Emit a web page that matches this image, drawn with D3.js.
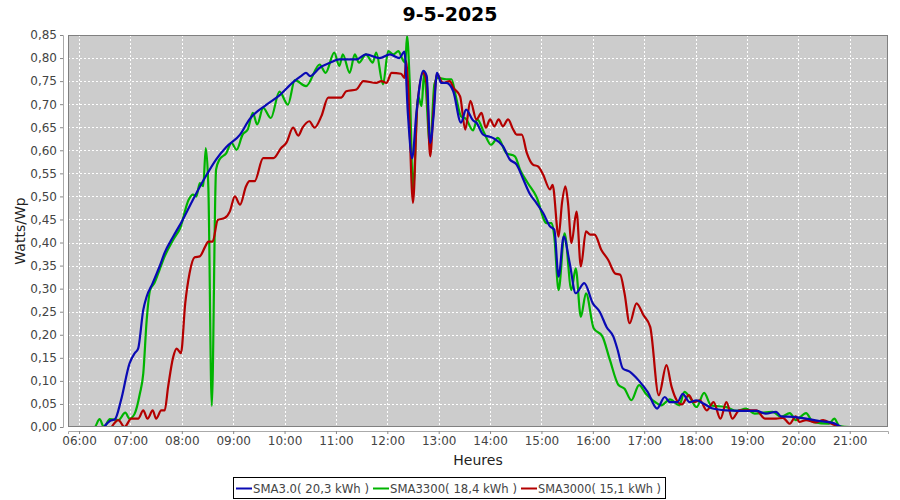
<!DOCTYPE html>
<html><head><meta charset="utf-8">
<script src="https://cdn.jsdelivr.net/npm/d3@7"></script>
<style>body{margin:0;background:#fff}svg{display:block;font-family:"DejaVu Sans",sans-serif}</style>
</head><body><svg id="c" width="900" height="500"></svg>
<script>
const title = "9-5-2025";
const yLabel = "Watts/Wp";
const xLabel = "Heures";
const yTicks = [0,0.05,0.10,0.15,0.20,0.25,0.30,0.35,0.40,0.45,0.50,0.55,0.60,0.65,0.70,0.75,0.80,0.85];
const xTickHours = [6,7,8,9,10,11,12,13,14,15,16,17,18,19,20,21];
const seriesNames = ["SMA3.0( 20,3 kWh )","SMA3300( 18,4 kWh )","SMA3000( 15,1 kWh )"];
const seriesColors = ["#0a0ab4","#00b400","#b40000"];

const blueTimes = ["06:29","06:36","06:42","06:49","06:59","07:05","07:09","07:15","07:19","07:26","07:34","07:40","07:50","08:01","08:13","08:29","08:40","08:52","09:08","09:19","09:39","09:54","10:10","10:20","10:25","10:30","10:41","10:53","11:04","11:24","11:35","11:51","12:03","12:14","12:20","12:24","12:29","12:34","12:42","12:46","12:50","12:54","12:58","13:03","13:09","13:17","13:26","13:32","13:40","13:44","13:52","14:03","14:15","14:23","14:31","14:39","14:46","14:54","15:02","15:10","15:15","15:20","15:26","15:33","15:40","15:50","16:00","16:08","16:16","16:24","16:29","16:35","16:43","16:54","17:04","17:15","17:24","17:30","17:39","17:45","17:53","18:01","18:09","18:20","18:36","18:51","19:11","19:22","19:34","19:40","19:54","20:09","20:25","20:40","20:50"];
const blueValues = [0.000,0.013,0.017,0.058,0.138,0.160,0.170,0.254,0.283,0.312,0.348,0.378,0.413,0.449,0.493,0.547,0.580,0.607,0.634,0.667,0.699,0.719,0.748,0.762,0.768,0.761,0.779,0.790,0.797,0.797,0.808,0.800,0.808,0.800,0.814,0.680,0.583,0.681,0.772,0.761,0.616,0.674,0.768,0.746,0.746,0.728,0.660,0.688,0.665,0.660,0.634,0.627,0.609,0.580,0.569,0.536,0.507,0.486,0.464,0.435,0.428,0.326,0.413,0.355,0.290,0.312,0.268,0.250,0.217,0.196,0.167,0.127,0.120,0.100,0.076,0.040,0.065,0.054,0.054,0.072,0.054,0.058,0.051,0.040,0.036,0.035,0.035,0.029,0.033,0.023,0.022,0.018,0.013,0.009,0.000];

const greenTimes = ["06:04","06:18","06:24","06:29","06:36","06:46","06:54","06:59","07:05","07:11","07:15","07:19","07:23","07:28","07:34","07:40","07:50","07:58","08:08","08:13","08:17","08:21","08:25","08:28","08:31","08:35","08:40","08:44","08:52","08:58","09:04","09:11","09:17","09:23","09:28","09:35","09:44","09:54","10:04","10:12","10:25","10:41","10:48","10:58","11:04","11:08","11:16","11:22","11:27","11:35","11:43","11:47","11:55","12:01","12:07","12:13","12:17","12:21","12:23","12:26","12:30","12:36","12:40","12:43","12:50","12:55","12:59","13:09","13:15","13:20","13:26","13:32","13:40","13:45","13:53","14:01","14:09","14:19","14:29","14:35","14:44","14:54","15:06","15:12","15:15","15:20","15:27","15:35","15:40","15:46","15:52","16:01","16:11","16:20","16:30","16:37","16:45","16:54","17:02","17:10","17:20","17:30","17:41","17:47","17:53","18:01","18:10","18:18","18:36","18:48","18:59","19:09","19:30","19:40","19:50","19:57","20:09","20:17","20:36","20:42","20:48","21:00","21:32"];
const greenValues = [0,0,0.017,0,0.017,0.015,0.031,0.018,0.029,0.072,0.116,0.232,0.297,0.312,0.341,0.370,0.406,0.431,0.493,0.504,0.500,0.529,0.522,0.605,0.520,0.046,0.558,0.580,0.594,0.616,0.601,0.634,0.645,0.681,0.656,0.692,0.670,0.727,0.699,0.752,0.739,0.786,0.768,0.812,0.783,0.808,0.768,0.808,0.790,0.808,0.790,0.812,0.743,0.815,0.808,0.815,0.800,0.790,0.848,0.754,0.515,0.717,0.696,0.768,0.609,0.743,0.757,0.754,0.754,0.717,0.674,0.668,0.643,0.667,0.638,0.612,0.627,0.594,0.587,0.558,0.529,0.500,0.442,0.442,0.413,0.297,0.420,0.297,0.344,0.239,0.290,0.214,0.197,0.145,0.091,0.083,0.058,0.091,0.072,0.058,0.047,0.060,0.047,0.076,0.065,0.043,0.074,0.047,0.043,0.035,0.040,0.029,0.033,0.022,0.030,0.015,0.030,0.011,0.007,0.018,0.002,0,0];

const redTimes = ["06:38","06:46","06:53","07:01","07:09","07:15","07:20","07:26","07:30","07:36","07:40","07:44","07:50","07:54","07:59","08:04","08:09","08:15","08:21","08:27","08:31","08:36","08:42","08:50","08:56","09:02","09:08","09:15","09:19","09:25","09:35","09:47","09:56","10:02","10:10","10:16","10:21","10:29","10:35","10:43","10:51","11:06","11:12","11:24","11:32","11:47","11:53","11:59","12:05","12:16","12:20","12:22","12:24","12:30","12:35","12:42","12:46","12:50","12:54","12:58","13:05","13:13","13:17","13:25","13:31","13:37","13:44","13:50","13:55","14:00","14:05","14:10","14:15","14:21","14:27","14:31","14:37","14:43","14:50","14:56","15:02","15:10","15:13","15:20","15:24","15:28","15:31","15:35","15:41","15:46","15:52","15:57","16:02","16:10","16:18","16:26","16:32","16:37","16:43","16:51","16:59","17:07","17:17","17:26","17:32","17:38","17:44","17:52","17:58","18:05","18:13","18:21","18:29","18:36","18:43","18:51","19:11","19:21","19:34","19:42","19:50","19:57","20:01","20:09","20:20","20:29","20:40","20:48"];
const redValues = [0,0.015,0,0.018,0.018,0.036,0.018,0.036,0.018,0.036,0.036,0.087,0.152,0.170,0.160,0.268,0.333,0.368,0.370,0.390,0.402,0.402,0.449,0.453,0.467,0.500,0.482,0.522,0.533,0.533,0.583,0.583,0.605,0.616,0.649,0.632,0.649,0.663,0.649,0.674,0.714,0.714,0.728,0.732,0.750,0.746,0.750,0.746,0.768,0.766,0.757,0.794,0.750,0.486,0.696,0.768,0.745,0.587,0.688,0.765,0.746,0.750,0.736,0.717,0.645,0.707,0.667,0.681,0.649,0.667,0.652,0.667,0.652,0.667,0.645,0.634,0.634,0.594,0.569,0.565,0.547,0.515,0.525,0.413,0.486,0.522,0.486,0.399,0.467,0.348,0.424,0.417,0.417,0.384,0.362,0.333,0.330,0.290,0.225,0.268,0.243,0.217,0.069,0.134,0.087,0.058,0.049,0.069,0.054,0.058,0.036,0.054,0.018,0.054,0.018,0.036,0.036,0.018,0.018,0.020,0.007,0.023,0.011,0.015,0.010,0.015,0.006,0];

const toH = s => { const [h,m] = s.split(":").map(Number); return h + m/60; };
const series = [
  {name: seriesNames[0], color: seriesColors[0], pts: blueTimes.map((t,i)=>[toH(t), blueValues[i]])},
  {name: seriesNames[1], color: seriesColors[1], pts: greenTimes.map((t,i)=>[toH(t), greenValues[i]])},
  {name: seriesNames[2], color: seriesColors[2], pts: redTimes.map((t,i)=>[toH(t), redValues[i]])}
];

const svg = d3.select("#c");
const L = 68, R = 888, T = 35, B = 427;
const x = d3.scaleLinear().domain([5.785, 21.745]).range([L, R]);
const y = d3.scaleLinear().domain([0, 0.85]).range([B, T]);
const fmtY = d => d3.format(".2f")(d).replace(".", ",");
const fmtX = h => String(h).padStart(2,"0") + ":00";

svg.append("text").attr("x", 450).attr("y", 21).attr("text-anchor","middle")
  .attr("font-size", 19).attr("font-weight","bold").attr("fill","#000").text(title);

svg.append("rect").attr("x", L).attr("y", T).attr("width", R-L).attr("height", B-T).attr("fill", "#cccccc");

const g = svg.append("g");
g.selectAll(".hg").data(yTicks).join("line")
  .attr("x1", L).attr("x2", R).attr("y1", d=>Math.round(y(d))+0.5).attr("y2", d=>Math.round(y(d))+0.5)
  .attr("stroke","#fff").attr("stroke-width",1).attr("stroke-dasharray","2,2");
g.selectAll(".vg").data(xTickHours).join("line")
  .attr("y1", T).attr("y2", B).attr("x1", d=>Math.round(x(d))+0.5).attr("x2", d=>Math.round(x(d))+0.5)
  .attr("stroke","#fff").attr("stroke-width",1).attr("stroke-dasharray","2,2");

svg.append("clipPath").attr("id","pc").append("rect").attr("x",L).attr("y",T-3).attr("width",R-L).attr("height",B-T+3);
const line = d3.line().x(d=>x(d[0])).y(d=>y(d[1])).curve(d3.curveMonotoneX);
const order = [1,2,0];
const lg = svg.append("g").attr("clip-path","url(#pc)");
order.forEach(i => {
  lg.append("path").attr("d", line(series[i].pts)).attr("fill","none")
    .attr("stroke", series[i].color).attr("stroke-width", 2.2).attr("stroke-linejoin","round");
});

svg.append("rect").attr("x", L+0.5).attr("y", T+0.5).attr("width", R-L-1).attr("height", B-T-1)
  .attr("fill","none").attr("stroke","#808080");

// Y axis
const ya = svg.append("g").attr("transform", `translate(${L-5},0)`)
  .call(d3.axisLeft(y).tickValues(yTicks).tickFormat(fmtY).tickSize(3).tickPadding(3));
ya.select(".domain").attr("stroke","#aaa");
ya.selectAll(".tick line").attr("stroke","#888");
ya.selectAll("text").attr("font-size",12).attr("fill","#444").attr("font-family","DejaVu Sans");

// X axis
const xa = svg.append("g").attr("transform", `translate(0,${B+4})`)
  .call(d3.axisBottom(x).tickValues(xTickHours).tickFormat(fmtX).tickSize(3).tickPadding(2));
xa.select(".domain").attr("stroke","#aaa");
xa.selectAll(".tick line").attr("stroke","#888");
xa.selectAll("text").attr("font-size",12).attr("fill","#444").attr("font-family","DejaVu Sans");

svg.append("text").attr("transform", `translate(25,${(T+B)/2}) rotate(-90)`).attr("text-anchor","middle")
  .attr("font-size",14).attr("fill","#222").text(yLabel);
svg.append("text").attr("x",(L+R)/2).attr("y",465).attr("text-anchor","middle")
  .attr("font-size",14).attr("fill","#222").text(xLabel);

// Legend
const leg = svg.append("g");
const legStarts = [236, 373, 521];
const legEnd = 665;
series.forEach((s, i) => {
  const cx = legStarts[i];
  const next = i < series.length - 1 ? legStarts[i+1] : legEnd;
  leg.append("line").attr("x1", cx).attr("x2", cx+16).attr("y1", 488.5).attr("y2", 488.5).attr("stroke", s.color).attr("stroke-width",2);
  leg.append("text").attr("x", cx+17).attr("y", 493).attr("font-size",12).attr("fill","#444")
    .attr("textLength", next - cx - 17 - 4).attr("lengthAdjust","spacingAndGlyphs").text(s.name);
});
leg.insert("rect", ":first-child").attr("x", 233.5).attr("y", 477.5).attr("width", legEnd - 233).attr("height", 21)
  .attr("fill","#fff").attr("stroke","#000");
</script></body></html>
